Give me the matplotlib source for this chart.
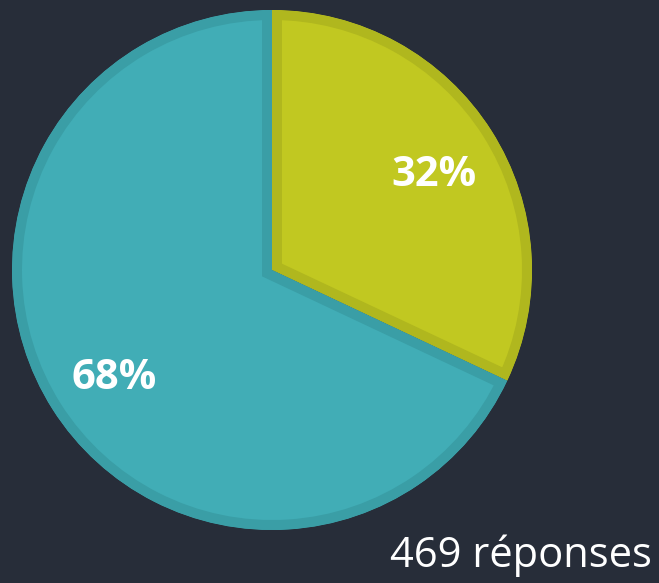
import matplotlib
matplotlib.use("Agg")
import matplotlib.pyplot as plt
from matplotlib.transforms import offset_copy

labels = ["Oui", "Non"]
values = [32, 68]
face_colors = ["#c1c821", "#41adb6"]
edge_colors = ["#b0b71e", "#3a9ea6"]
bg = "#272d39"

W, H = 659, 583
fig = plt.figure(figsize=(W / 100, H / 100), dpi=100, facecolor=bg)
cx, cy, r = 272, 270, 260
ax = fig.add_axes([(cx - r) / W, (H - cy - r) / H, 2 * r / W, 2 * r / H])
ax.set_facecolor(bg)

wedges, texts, autotexts = ax.pie(
    values, colors=face_colors, startangle=90, counterclock=False,
    autopct="%d%%", pctdistance=0.73, radius=1,
    textprops=dict(color="white", fontsize=30, fontweight="bold", family=["Open Sans", "DejaVu Sans"]),
)
ax.set_xlim(-1, 1)
ax.set_ylim(-1, 1)
for w, ec in zip(wedges, edge_colors):
    w.set_edgecolor(ec)
    w.set_linewidth(14.4)
    w.set_joinstyle("miter")
    w.set_clip_on(True)
    w.set_clip_path(w)
for t in autotexts:
    t.set_transform(offset_copy(ax.transData, fig=fig, x=2, y=-7, units="dots"))
ax.axis("off")

fig.text(652 / W, 1 - 556 / H, "469 réponses", color="white", fontsize=30,
         ha="right", va="center", family=["Open Sans", "DejaVu Sans"])

fig.savefig("out.png", dpi=100, facecolor=bg)
